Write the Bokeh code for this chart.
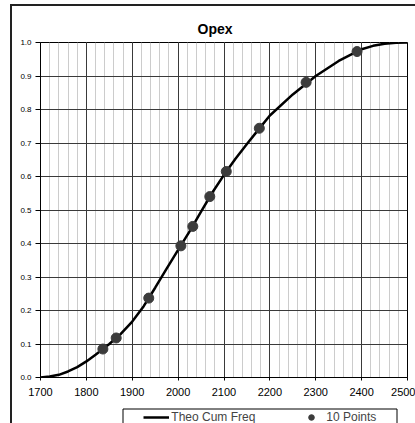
from bokeh.plotting import figure
from bokeh.models import FixedTicker, Legend, LegendItem, Range1d, BoxAnnotation
from bokeh.layouts import column
from bokeh.embed import file_html
from bokeh.resources import INLINE

# ---- data ----
curve_x = [1700, 1720, 1740, 1760, 1780, 1800, 1820, 1850, 1875, 1900, 1925, 1950,
           1975, 2000, 2025, 2050, 2075, 2100, 2125, 2150, 2175, 2200, 2250, 2300,
           2350, 2400, 2425, 2450, 2475, 2500]
curve_y = [0.000, 0.003, 0.008, 0.018, 0.031, 0.048, 0.068, 0.100, 0.130, 0.167,
           0.213, 0.268, 0.325, 0.381, 0.436, 0.495, 0.553, 0.605, 0.653, 0.697,
           0.740, 0.782, 0.845, 0.900, 0.945, 0.980, 0.990, 0.996, 0.999, 1.000]
pts_x = [1836, 1865, 1936, 2006, 2032, 2069, 2105, 2177, 2279, 2390]
pts_y = [0.085, 0.118, 0.237, 0.393, 0.451, 0.540, 0.615, 0.744, 0.881, 0.973]

x_ticks = [1700, 1800, 1900, 2000, 2100, 2200, 2300, 2400, 2500]
x_minor = list(range(1700, 2501, 20))
y_ticks = [0.0, 0.1, 0.2, 0.3, 0.4, 0.5, 0.6, 0.7, 0.8, 0.9, 1.0]
y_labels = ["0.0", "0.1", "0.2", "0.3", "0.4", "0.5", "0.6", "0.7", "0.8", "0.9", "1.0"]

title_text = "Opex"
series_line = "Theo Cum Freq"
series_pts = "10 Points"

FONT = "Liberation Sans"
LINE_STYLE = dict(line_color="#000000", line_width=2.5)
PT_STYLE = dict(fill_color="#3c3c3c", line_color="#3c3c3c")

# ---------------- main chart ----------------
p = figure(width=403, height=396, output_backend="svg", toolbar_location=None,
           x_range=Range1d(1700, 2500), y_range=Range1d(0, 1),
           min_border_left=28, min_border_right=8, min_border_top=36, min_border_bottom=25,
           title=title_text)

p.title.text_font = FONT
p.title.text_font_size = "14px"
p.title.text_font_style = "bold"
p.title.text_color = "#000000"
p.title.align = "left"
p.title.offset = 157
p.title.standoff = 11

p.background_fill_color = "white"
p.border_fill_color = "white"
p.outline_line_color = "#000000"
p.outline_line_width = 1

p.xaxis.ticker = FixedTicker(ticks=x_ticks, minor_ticks=x_minor)
p.yaxis.ticker = FixedTicker(ticks=y_ticks, minor_ticks=[])
p.yaxis.major_label_overrides = {t: l for t, l in zip(y_ticks, y_labels)}
for ax in (p.xaxis[0], p.yaxis[0]):
    ax.axis_line_color = "#000000"
    ax.axis_line_width = 1
    ax.major_tick_line_color = "#000000"
    ax.major_tick_in = 0
    ax.minor_tick_in = 0
    ax.minor_tick_out = 0
    ax.major_label_text_font = FONT
    ax.major_label_text_color = "#000000"
p.xaxis.major_tick_out = 3
p.xaxis.major_label_standoff = 7
p.xaxis.major_label_text_font_size = "11px"
p.yaxis.major_tick_out = 5
p.yaxis.major_label_standoff = 4
p.yaxis.major_label_text_font_size = "8px"

p.xgrid.grid_line_color = "#3a3a3a"
p.xgrid.grid_line_width = 1
p.xgrid.minor_grid_line_color = "#cccccc"
p.xgrid.minor_grid_line_width = 1
p.ygrid.grid_line_color = "#3a3a3a"
p.ygrid.grid_line_width = 1

p.line(curve_x, curve_y, **LINE_STYLE)
p.scatter(pts_x, pts_y, size=10, **PT_STYLE)

# ---------------- legend strip (frame aligned with the chart frame) ----------------
q = figure(width=403, height=21, output_backend="svg", toolbar_location=None,
           x_range=Range1d(0, 367), y_range=Range1d(0, 21),
           min_border_left=28, min_border_right=8, min_border_top=0, min_border_bottom=0)
q.axis.visible = False
q.grid.visible = False
q.outline_line_color = None
q.background_fill_color = "white"
q.border_fill_color = "white"

# legend renderers: same series, lying outside this strip's range (not drawn)
lr = q.line(curve_x, curve_y, **LINE_STYLE)
sr = q.scatter(pts_x, pts_y, size=7, **PT_STYLE)

q.add_layout(BoxAnnotation(left=82.5, right=356.5, top=14.5, bottom=-10,
                           fill_alpha=0, line_color="#000000", line_alpha=1.0,
                           line_width=1))

legend = Legend(items=[LegendItem(label=series_line, renderers=[lr]),
                       LegendItem(label=series_pts, renderers=[sr])],
                orientation="horizontal", location=(102.3, -1.5),
                padding=1, spacing=43, glyph_width=26, glyph_height=14,
                label_height=14, label_standoff=2,
                label_text_font=FONT, label_text_font_size="12px",
                border_line_alpha=0, background_fill_alpha=0)
q.add_layout(legend, "center")

layout = column(p, q, spacing=0,
                styles={"margin-left": "10px", "margin-top": "4px",
                        "border-left": "2px solid #222222",
                        "border-top": "2px solid #222222"})

open("out.html", "w").write(file_html(layout, INLINE))
